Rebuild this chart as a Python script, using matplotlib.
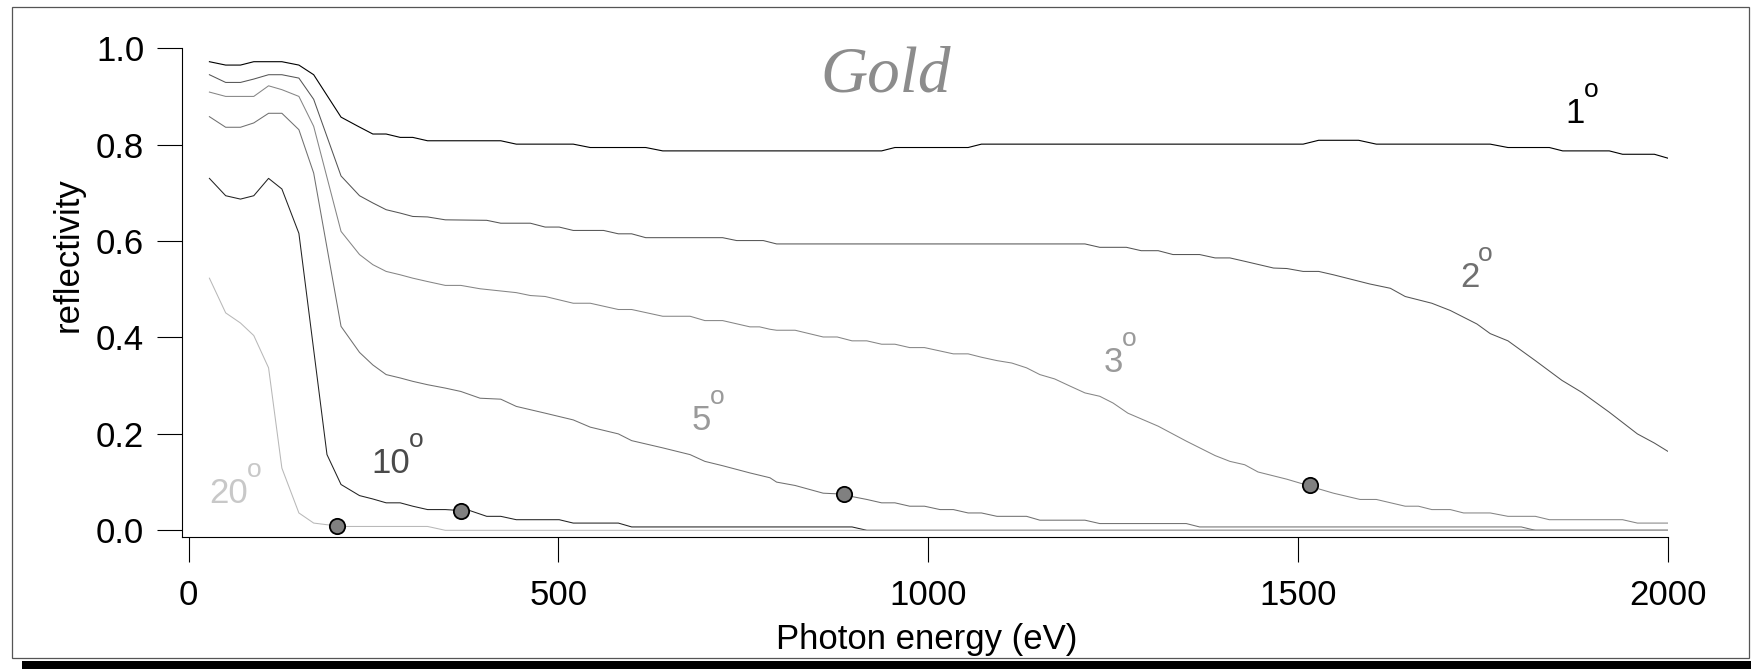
import matplotlib
matplotlib.use("Agg")
import matplotlib.pyplot as plt
from matplotlib.patches import Rectangle

plt.rcParams['font.family'] = ['Liberation Sans', 'DejaVu Sans']

# reflectivity of gold vs photon energy
e1 = [28, 50, 70, 88, 108, 126, 149, 169, 206, 229, 249, 267, 286, 303, 323, 422, 443, 520, 543, 618, 641,
      937, 955, 1054, 1072, 1507, 1528, 1582, 1606, 1760, 1784, 1840, 1858, 1921, 1939, 1982, 2000]
r1 = [0.972, 0.965, 0.965, 0.972, 0.972, 0.972, 0.965, 0.945, 0.857, 0.838, 0.822, 0.822, 0.815, 0.815, 0.808,
      0.808, 0.801, 0.801, 0.794, 0.794, 0.787, 0.787, 0.794, 0.794, 0.801, 0.801, 0.809, 0.809, 0.801, 0.801,
      0.794, 0.794, 0.787, 0.787, 0.780, 0.780, 0.772]

e2 = [28, 50, 70, 88, 108, 126, 149, 169, 206, 231, 249, 267, 286, 303, 323, 347, 403, 422, 462, 482, 501, 520,
      561, 581, 599, 618, 722, 741, 777, 795, 1212, 1232, 1268, 1288, 1311, 1331, 1367, 1388, 1408, 1428, 1467,
      1485, 1507, 1528, 1548, 1597, 1625, 1645, 1681, 1706, 1742, 1760, 1784, 1821, 1857, 1884, 1921, 1959,
      1982, 2000]
r2 = [0.945, 0.929, 0.929, 0.936, 0.945, 0.945, 0.938, 0.894, 0.735, 0.694, 0.679, 0.665, 0.658, 0.651, 0.650,
      0.644, 0.643, 0.637, 0.637, 0.629, 0.629, 0.622, 0.622, 0.615, 0.615, 0.607, 0.607, 0.601, 0.601, 0.594,
      0.594, 0.587, 0.587, 0.580, 0.580, 0.572, 0.572, 0.565, 0.565, 0.558, 0.544, 0.543, 0.537, 0.537, 0.530,
      0.511, 0.502, 0.485, 0.471, 0.456, 0.428, 0.408, 0.393, 0.352, 0.311, 0.286, 0.245, 0.200, 0.181, 0.164]

e3 = [28, 50, 70, 88, 108, 126, 149, 169, 206, 231, 249, 267, 286, 303, 323, 347, 368, 394, 443, 462, 482, 520,
      543, 581, 599, 641, 678, 698, 722, 759, 772, 786, 795, 820, 858, 877, 897, 917, 937, 955, 975, 995, 1016,
      1034, 1054, 1072, 1093, 1113, 1133, 1151, 1171, 1192, 1212, 1232, 1250, 1270, 1311, 1349, 1388, 1408,
      1428, 1446, 1485, 1507, 1528, 1548, 1584, 1606, 1645, 1663, 1681, 1706, 1724, 1760, 1784, 1821, 1840,
      1939, 1959, 2000]
r3 = [0.909, 0.900, 0.900, 0.900, 0.922, 0.914, 0.900, 0.838, 0.620, 0.572, 0.551, 0.537, 0.530, 0.523, 0.516,
      0.508, 0.508, 0.501, 0.493, 0.487, 0.485, 0.471, 0.471, 0.458, 0.458, 0.444, 0.444, 0.435, 0.435, 0.422,
      0.422, 0.417, 0.415, 0.415, 0.401, 0.401, 0.393, 0.393, 0.386, 0.386, 0.379, 0.379, 0.372, 0.366, 0.366,
      0.359, 0.352, 0.347, 0.337, 0.323, 0.314, 0.299, 0.285, 0.278, 0.264, 0.243, 0.216, 0.185, 0.155, 0.143,
      0.136, 0.121, 0.106, 0.096, 0.086, 0.077, 0.064, 0.064, 0.050, 0.050, 0.043, 0.043, 0.036, 0.036, 0.029,
      0.029, 0.022, 0.022, 0.015, 0.015]

e5 = [28, 50, 70, 88, 108, 126, 149, 169, 206, 231, 249, 267, 286, 303, 323, 347, 368, 394, 422, 443, 482, 520,
      543, 581, 599, 641, 678, 698, 722, 759, 786, 795, 820, 858, 886, 897, 917, 937, 955, 975, 995, 1016, 1034,
      1054, 1072, 1093, 1133, 1151, 1212, 1232, 1349, 1367, 1802, 1821, 2000]
r5 = [0.858, 0.836, 0.836, 0.845, 0.865, 0.865, 0.831, 0.741, 0.423, 0.369, 0.343, 0.323, 0.316, 0.309, 0.302,
      0.295, 0.288, 0.274, 0.272, 0.257, 0.243, 0.229, 0.214, 0.200, 0.186, 0.171, 0.157, 0.143, 0.134, 0.119,
      0.109, 0.100, 0.093, 0.077, 0.075, 0.070, 0.064, 0.057, 0.057, 0.050, 0.050, 0.043, 0.043, 0.036, 0.036,
      0.029, 0.029, 0.021, 0.021, 0.014, 0.014, 0.007, 0.007, 0.0, 0.0]

e10 = [28, 50, 70, 88, 108, 126, 149, 187, 206, 231, 249, 267, 286, 303, 323, 347, 368, 380, 403, 422, 443,
       501, 520, 581, 599, 897, 917, 2000]
r10 = [0.730, 0.694, 0.687, 0.694, 0.730, 0.708, 0.616, 0.157, 0.095, 0.072, 0.065, 0.057, 0.057, 0.050, 0.043,
       0.043, 0.041, 0.041, 0.029, 0.029, 0.022, 0.022, 0.015, 0.015, 0.007, 0.007, 0.0, 0.0]

e20 = [28, 50, 70, 88, 108, 126, 149, 169, 206, 323, 347, 2000]
r20 = [0.523, 0.451, 0.430, 0.404, 0.337, 0.129, 0.036, 0.015, 0.008, 0.008, 0.0, 0.0]

# highlighted points
mark_e = [201, 368, 886, 1516]
mark_r = [0.008, 0.041, 0.075, 0.094]

angle_labels = ['1', '2', '3', '5', '10', '20']
label_e = [1862, 1719, 1237, 680, 247, 28]
label_r = [0.844, 0.505, 0.328, 0.208, 0.1195, 0.056]
label_colors = ['#000000', '#707070', '#9a9a9a', '#9a9a9a', '#4a4a4a', '#c8c8c8']

fig = plt.figure(figsize=(17.51, 6.69), dpi=100)
ax = fig.add_axes([0.10377, 0.19686, 0.84865, 0.73109])

ax.plot(e1, r1, color='#000000', lw=0.8)
ax.plot(e2, r2, color='#555555', lw=0.75)
ax.plot(e3, r3, color='#858585', lw=0.75)
ax.plot(e5, r5, color='#707070', lw=0.75)
ax.plot(e10, r10, color='#222222', lw=0.75)
ax.plot(e20, r20, color='#b8b8b8', lw=0.75)
ax.plot(mark_e, mark_r, 'o', ms=11, mfc='#808080', mec='black', mew=1.3, zorder=5)

for lab, x, y, c in zip(angle_labels, label_e, label_r, label_colors):
    t = ax.text(x, y, lab, fontsize=25, color=c, ha='left', va='baseline')
    ax.annotate('o', xy=(1.0, 1.0), xycoords=t, xytext=(-1, 0), textcoords='offset points',
                fontsize=19, color=c, ha='left', va='baseline')

ax.text(943, 0.910, 'Gold', fontsize=47, color='#8c8c8c', family='Liberation Serif',
        style='italic', ha='center', va='baseline')

ax.set_xlim(-9.47, 2000)
ax.set_ylim(-0.0145, 1.0)
ax.set_xticks([0, 500, 1000, 1500, 2000])
ax.set_yticks([0.0, 0.2, 0.4, 0.6, 0.8, 1.0])
ax.set_yticklabels(['0.0', '0.2', '0.4', '0.6', '0.8', '1.0'])
ax.tick_params(axis='both', direction='out', length=18, width=0.8, labelsize=25, colors='black')
ax.tick_params(axis='y', pad=9)
ax.tick_params(axis='x', pad=12)
ax.spines['top'].set_visible(False)
ax.spines['right'].set_visible(False)
ax.spines['left'].set_linewidth(0.8)
ax.spines['bottom'].set_linewidth(0.8)

fig.text(68.5 / 1751, 1 - 255 / 669, 'reflectivity', rotation=90, fontsize=25, ha='center', va='center')
fig.text(927 / 1751, 1 - 640 / 669, 'Photon energy (eV)', fontsize=25, ha='center', va='center')

# outer frame and shadow bar
fig.add_artist(Rectangle((12 / 1751, 11 / 669), 1737 / 1751, 651.3 / 669, transform=fig.transFigure,
                         fill=False, edgecolor='#555555', lw=0.9))
fig.add_artist(Rectangle((22 / 1751, 0), 1 - 22 / 1751, 8.5 / 669, transform=fig.transFigure,
                         facecolor='black', edgecolor='none'))

fig.savefig('out.png', dpi=100)
